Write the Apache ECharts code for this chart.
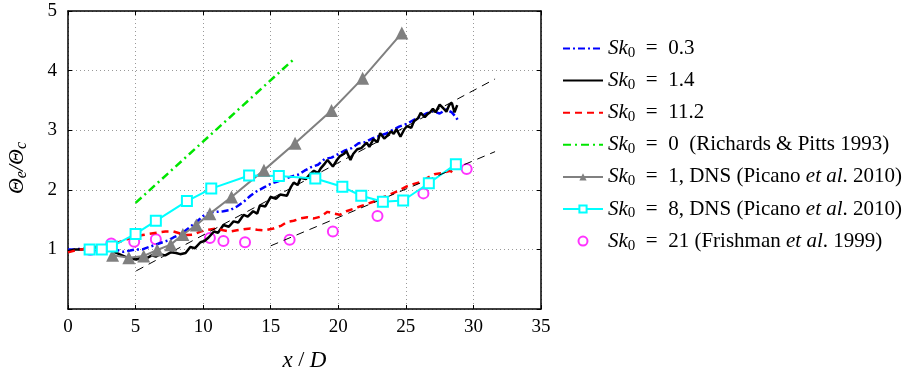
<!DOCTYPE html>
<html>
<head>
<meta charset="utf-8">
<script src="https://cdn.jsdelivr.net/npm/echarts@6/dist/echarts.min.js"></script>
<style>
  html, body { margin: 0; padding: 0; background: #fff; }
  #chart { width: 910px; height: 374px; }
</style>
</head>
<body>
<div id="chart"></div>
<script>
// Sk0 = 0.3 (blue dash-dot)
var blueX = [0, 0.5, 1, 1.5, 2, 2.5, 3, 3.5, 4.1, 4.6, 5, 5.5, 6, 6.5, 7, 7.4, 7.8, 8.2, 8.6, 9, 9.5, 10, 10.5, 11, 11.5, 12, 12.5, 13, 13.5, 14, 14.5, 15, 15.5, 16, 16.5, 17, 17.5, 18, 18.5, 19, 19.5, 20, 20.5, 21, 21.5, 22, 22.5, 23, 23.5, 24, 24.5, 25, 25.5, 26, 26.5, 27, 27.5, 28, 28.4, 28.7, 28.9];
var blueY = [1.0, 1.0, 1.01, 1.0, 1.02, 1.0, 1.02, 1.0, 0.96, 0.98, 1.0, 1.0, 1.04, 1.08, 1.12, 1.15, 1.2, 1.24, 1.3, 1.37, 1.46, 1.56, 1.62, 1.63, 1.64, 1.66, 1.72, 1.8, 1.9, 1.98, 2.04, 2.1, 2.14, 2.18, 2.22, 2.25, 2.32, 2.38, 2.42, 2.52, 2.54, 2.6, 2.66, 2.7, 2.78, 2.8, 2.86, 2.9, 2.94, 3.0, 3.06, 3.1, 3.16, 3.22, 3.28, 3.32, 3.28, 3.35, 3.3, 3.22, 3.15];

// Sk0 = 1.4 (black solid)
var blackX = [0, 0.5, 1, 1.5, 2, 2.5, 3, 3.5, 4, 4.5, 5.05, 5.4, 5.8, 6.2, 6.5, 6.8, 7.2, 7.6, 8.0, 8.3, 8.7, 9.05, 9.4, 9.8, 10.1, 10.4, 10.8, 11.1, 11.5, 11.9, 12.25, 12.6, 13.0, 13.3, 13.7, 14.0, 14.2, 14.6, 15.0, 15.4, 15.7, 16.2, 16.5, 16.7, 17.0, 17.2, 17.6, 17.9, 18.2, 18.5, 18.7, 19.0, 19.2, 19.6, 19.9, 20.1, 20.4, 20.6, 20.9, 21.1, 21.4, 21.7, 22.1, 22.3, 22.6, 22.9, 23.1, 23.4, 23.6, 23.9, 24.1, 24.3, 24.6, 24.9, 25.1, 25.4, 25.6, 25.9, 26.1, 26.4, 26.6, 26.8, 27.0, 27.2, 27.5, 27.8, 28.0, 28.2, 28.4, 28.6, 28.8];
var blackY = [0.97, 1.0, 1.0, 1.02, 1.0, 1.01, 0.99, 0.95, 0.9, 0.85, 0.83, 0.86, 0.85, 0.9, 0.88, 0.92, 0.9, 0.95, 0.94, 0.92, 0.94, 1.04, 1.02, 1.12, 1.14, 1.2, 1.3, 1.28, 1.41, 1.38, 1.47, 1.45, 1.58, 1.55, 1.64, 1.6, 1.74, 1.72, 1.88, 1.85, 1.92, 1.9, 2.05, 2.12, 2.08, 2.2, 2.18, 2.26, 2.32, 2.28, 2.36, 2.44, 2.5, 2.39, 2.5, 2.56, 2.6, 2.65, 2.5, 2.6, 2.68, 2.7, 2.79, 2.72, 2.85, 2.8, 2.95, 2.86, 2.9, 2.98, 2.94, 3.02, 2.89, 3.02, 3.07, 3.04, 3.15, 3.2, 3.29, 3.22, 3.27, 3.3, 3.36, 3.3, 3.43, 3.36, 3.31, 3.42, 3.46, 3.3, 3.42];

// Sk0 = 11.2 (red dashed)
var redX = [0, 0.5, 1, 1.5, 2, 2.5, 3, 3.5, 4, 4.5, 5, 5.5, 6, 6.6, 7.2, 7.8, 8.4, 8.8, 9.3, 9.8, 10.4, 11, 11.5, 12, 12.5, 13, 13.5, 14, 14.5, 15.2, 15.8, 16.2, 16.7, 17.2, 17.7, 18.2, 18.7, 19.2, 19.7, 20.1, 20.6, 21.1, 21.6, 22.1, 22.6, 23.1, 23.6, 24.1, 24.6, 25.1, 25.6, 26.1, 26.6, 27.1, 27.6, 28.0, 28.3, 28.6];
var redY = [0.95, 0.98, 1.0, 1.02, 1.04, 1.05, 1.07, 1.1, 1.14, 1.18, 1.21, 1.24, 1.26, 1.28, 1.3, 1.3, 1.26, 1.24, 1.25, 1.3, 1.33, 1.35, 1.32, 1.3, 1.32, 1.34, 1.35, 1.33, 1.32, 1.35, 1.4, 1.46, 1.48, 1.52, 1.54, 1.52, 1.55, 1.63, 1.6, 1.58, 1.64, 1.68, 1.72, 1.76, 1.8, 1.86, 1.9, 1.95, 2.0, 2.06, 2.1, 2.13, 2.2, 2.26, 2.28, 2.3, 2.32, 2.25];

// Sk0 = 0, Richards & Pitts 1993 (green dash-dot)
var greenX = [5, 16.8];
var greenY = [1.78, 4.21];

// Sk0 = 1, DNS Picano et al. 2010 (gray triangles)
var grayX = [3.3, 4.5, 5.6, 6.6, 7.6, 8.5, 9.5, 10.5, 12.1, 14.5, 16.8, 19.5, 21.8, 24.7];
var grayY = [0.9, 0.86, 0.89, 0.99, 1.08, 1.25, 1.41, 1.6, 1.88, 2.33, 2.78, 3.33, 3.87, 4.63];

// Sk0 = 8, DNS Picano et al. 2010 (cyan squares)
var cyanX = [1.6, 2.5, 3.25, 5.0, 6.5, 8.8, 10.6, 13.4, 15.6, 18.3, 20.3, 21.7, 23.3, 24.8, 26.7, 28.7];
var cyanY = [1.0, 1.0, 1.05, 1.26, 1.48, 1.81, 2.02, 2.24, 2.23, 2.19, 2.05, 1.9, 1.8, 1.82, 2.11, 2.43];

// Sk0 = 21, Frishman et al. 1999 (magenta circles)
var magX = [1.65, 3.2, 4.9, 6.5, 10.5, 11.5, 13.1, 16.4, 19.6, 22.9, 26.3, 29.5];
var magY = [0.99, 1.1, 1.13, 1.17, 1.19, 1.14, 1.12, 1.16, 1.3, 1.56, 1.94, 2.35];

// thin dashed guide lines
var guide1X = [5.05, 31.6];
var guide1Y = [0.64, 3.86];
var guide2X = [15.0, 31.6];
var guide2Y = [1.06, 2.64];

var names = ['Sk0 = 0.3', 'Sk0 = 1.4', 'Sk0 = 11.2', 'Sk0 = 0 (Richards & Pitts 1993)',
  'Sk0 = 1, DNS (Picano et al. 2010)', 'Sk0 = 8, DNS (Picano et al. 2010)', 'Sk0 = 21 (Frishman et al. 1999)'];
var richNames = {};
richNames[names[0]] = '{i|Sk}{s|0}{n|  =  0.3}';
richNames[names[1]] = '{i|Sk}{s|0}{n|  =  1.4}';
richNames[names[2]] = '{i|Sk}{s|0}{n|  =  11.2}';
richNames[names[3]] = '{i|Sk}{s|0}{n|  =  0  (Richards & Pitts 1993)}';
richNames[names[4]] = '{i|Sk}{s|0}{n|  =  1, DNS (Picano }{i|et al}{n|. 2010)}';
richNames[names[5]] = '{i|Sk}{s|0}{n|  =  8, DNS (Picano }{i|et al}{n|. 2010)}';
richNames[names[6]] = '{i|Sk}{s|0}{n|  =  21 (Frishman }{i|et al}{n|. 1999)}';

var font = 'Liberation Serif';

function zip(xs, ys) {
  return xs.map(function (x, i) { return [x, ys[i]]; });
}

function plainLine(name, xs, ys, color, width, dash) {
  return {
    name: name, type: 'line', data: zip(xs, ys),
    symbol: 'none', showSymbol: false, animation: false,
    lineStyle: { color: color, width: width, type: dash },
    itemStyle: { color: color }
  };
}

var series = [
  plainLine(names[0], blueX, blueY, '#0000ff', 2.5, [7, 3, 2, 3]),
  plainLine(names[1], blackX, blackY, '#000000', 2.5, 'solid'),
  plainLine(names[2], redX, redY, '#ff0000', 2.5, [7, 5]),
  plainLine(names[3], greenX, greenY, '#00e600', 2.5, [8, 4, 2, 4]),
  {
    name: names[4], type: 'line', data: zip(grayX, grayY), animation: false,
    symbol: 'triangle', symbolSize: 13,
    lineStyle: { color: '#808080', width: 2 },
    itemStyle: { color: '#808080' }
  },
  {
    name: names[5], type: 'line', data: zip(cyanX, cyanY), animation: false,
    symbol: 'emptyRect', symbolSize: 10,
    lineStyle: { color: '#00ffff', width: 2 },
    itemStyle: { color: '#00ffff', borderColor: '#00ffff', borderWidth: 2 }
  },
  {
    name: names[6], type: 'scatter', data: zip(magX, magY), animation: false,
    symbol: 'emptyCircle', symbolSize: 10,
    itemStyle: { color: '#ff00ff', borderColor: '#ff00ff', borderWidth: 2.5 }
  },
  plainLine('guide1', guide1X, guide1Y, '#000000', 1, [8, 6]),
  plainLine('guide2', guide2X, guide2Y, '#000000', 1, [8, 6])
];

var richStyle = {
  n: { fontFamily: font, fontSize: 21, color: '#000' },
  i: { fontFamily: font, fontStyle: 'italic', fontSize: 21, color: '#000' },
  s: { fontFamily: font, fontSize: 15, color: '#000', padding: [9, 0, 0, 0] }
};

// line-only series get no symbol in the legend
var legendData = names.map(function (n, i) {
  if (i < 4) return { name: n, itemStyle: { opacity: 0 } };
  return { name: n };
});

var option = {
  backgroundColor: '#fff',
  animation: false,
  textStyle: { fontFamily: font },
  grid: { left: 68, right: 369, top: 11, bottom: 65, show: false, outerBoundsMode: 'none' },
  legend: {
    orient: 'vertical', left: 557, top: 33,
    itemWidth: 40, itemHeight: 9, itemGap: 9.6,
    data: legendData,
    formatter: function (n) { return richNames[n]; },
    textStyle: { fontFamily: font, fontSize: 21, color: '#000', rich: richStyle }
  },
  xAxis: [{
    type: 'value', min: 0, max: 35, interval: 5,
    name: '{i|x} / {i|D}', nameLocation: 'middle', nameGap: 40,
    nameTextStyle: {
      color: '#000', fontSize: 22,
      rich: {
        i: { fontFamily: font, fontStyle: 'italic', fontSize: 23, color: '#000' },
      }
    },
    axisLine: { show: true, onZero: false, lineStyle: { color: '#000', width: 1.5 } },
    axisTick: { show: true, inside: true, length: 4, lineStyle: { color: '#000' } },
    axisLabel: { fontFamily: font, fontSize: 19, color: '#000', margin: 9 },
    splitLine: { show: true, lineStyle: { color: '#999', type: [1, 3], width: 1 } }
  }, {
    type: 'value', min: 0, max: 35, interval: 5, position: 'top',
    axisLine: { show: true, onZero: false, lineStyle: { color: '#000', width: 1.5 } },
    axisTick: { show: true, inside: true, length: 4, lineStyle: { color: '#000' } },
    axisLabel: { show: false }, splitLine: { show: false }
  }],
  yAxis: [{
    type: 'value', min: 0, max: 5, interval: 1,
    name: '{i|Θ}{s|e}{i|/Θ}{s|c}', nameLocation: 'middle', nameGap: 38, nameRotate: 90,
    nameTextStyle: {
      color: '#000', fontSize: 22, padding: [0, 16, 0, 0],
      rich: {
        i: { fontFamily: font, fontStyle: 'italic', fontSize: 22, color: '#000' },
        s: { fontFamily: font, fontStyle: 'italic', fontSize: 16, color: '#000', padding: [10, 0, 0, 0] }
      }
    },
    axisLine: { show: true, onZero: false, lineStyle: { color: '#000', width: 1.5 } },
    axisTick: { show: true, inside: true, length: 4, lineStyle: { color: '#000' } },
    axisLabel: {
      fontFamily: font, fontSize: 19, color: '#000', margin: 11,
      formatter: function (v) { return v === 0 ? '' : v; }
    },
    splitLine: { show: true, lineStyle: { color: '#999', type: [1, 3], width: 1 } }
  }, {
    type: 'value', min: 0, max: 5, interval: 1, position: 'right',
    axisLine: { show: true, onZero: false, lineStyle: { color: '#000', width: 1.5 } },
    axisTick: { show: true, inside: true, length: 4, lineStyle: { color: '#000' } },
    axisLabel: { show: false }, splitLine: { show: false }
  }],
  series: series
};

var chart = echarts.init(document.getElementById('chart'));
chart.setOption(option);
</script>
</body>
</html>
